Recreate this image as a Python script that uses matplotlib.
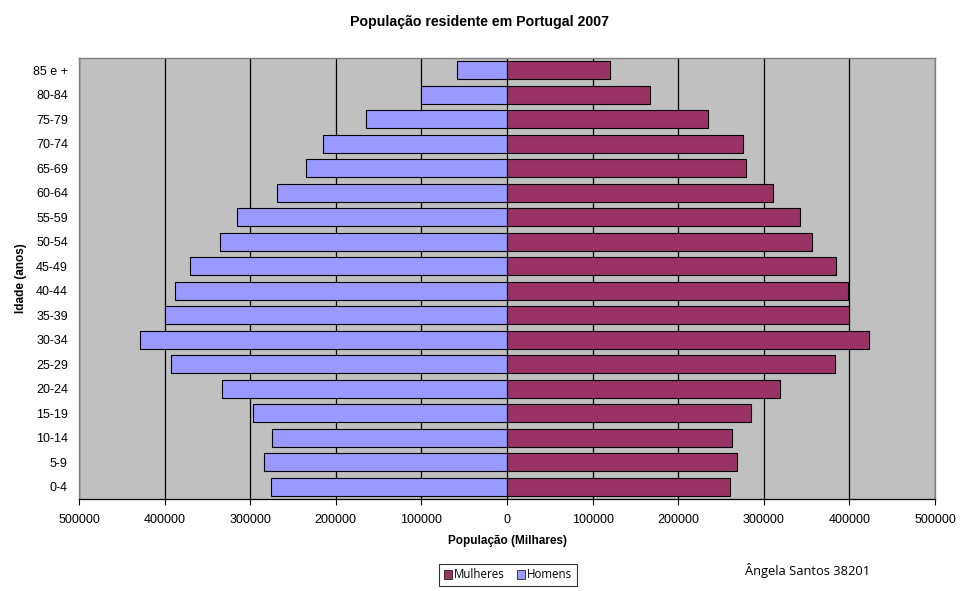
import numpy as np
import matplotlib
matplotlib.use("Agg")
import matplotlib.pyplot as plt
from matplotlib.ticker import FuncFormatter
from matplotlib.patches import Patch

faixas = ["0-4", "5-9", "10-14", "15-19", "20-24", "25-29", "30-34", "35-39",
          "40-44", "45-49", "50-54", "55-59", "60-64", "65-69", "70-74",
          "75-79", "80-84", "85 e +"]
homens = [275700, 283900, 274500, 296700, 333000, 392500, 428700, 399500,
          387900, 370300, 335300, 315400, 268700, 234800, 215000,
          164700, 100500, 58400]
mulheres = [261000, 269200, 263300, 285500, 319400, 383600, 423400, 400000,
            398800, 384800, 356800, 342800, 311200, 279700, 276200,
            235300, 167500, 120300]
ticks = [-500000, -400000, -300000, -200000, -100000, 0,
         100000, 200000, 300000, 400000, 500000]

plt.rcParams['font.family'] = ['Liberation Sans', 'DejaVu Sans']

fig = plt.figure(figsize=(9.69, 5.91), dpi=100)
ax = fig.add_axes([79/969, 92/591, 856/969, 441/591])
ax.set_facecolor("#C0C0C0")

y = np.arange(len(faixas))
ax.barh(y, -np.array(homens), height=0.74, color="#9999FF",
        edgecolor="black", linewidth=0.8, label="Homens", zorder=3)
ax.barh(y, mulheres, height=0.74, color="#993366",
        edgecolor="black", linewidth=0.8, label="Mulheres", zorder=3)

ax.set_xlim(-500000, 500000)
ax.set_ylim(-0.5, len(faixas) - 0.5)
ax.set_xticks(ticks)
ax.xaxis.set_major_formatter(FuncFormatter(lambda v, p: "%d" % abs(v)))
ax.set_yticks(y)
ax.set_yticklabels(faixas)
ax.tick_params(axis="y", length=0, pad=8, labelsize=9)
ax.tick_params(axis="x", direction="out", length=4, width=0.8,
               color="black", labelsize=9, pad=7)
ax.grid(axis="x", color="black", linewidth=0.9, zorder=1)
ax.set_axisbelow(True)

for s in ["top", "left", "right"]:
    ax.spines[s].set_color("#808080")
    ax.spines[s].set_linewidth(1)
ax.spines["bottom"].set_color("black")
ax.spines["bottom"].set_linewidth(0.9)

ax.set_xlabel("População (Milhares)", fontsize=8.5, fontweight="bold", labelpad=6)
ax.set_ylabel("Idade (anos)", fontsize=8.5, fontweight="bold", labelpad=4)
fig.text(480/969, 1 - 22/591, "População residente em Portugal 2007",
         ha="center", va="center", fontsize=10.2, fontweight="bold")

handles = [Patch(facecolor="#993366", edgecolor="black", linewidth=0.5, label="Mulheres"),
           Patch(facecolor="#9999FF", edgecolor="black", linewidth=0.5, label="Homens")]
leg = fig.legend(handles=handles, loc="center", bbox_to_anchor=(508/969, 1 - 575/591),
                 ncol=2, frameon=True, fancybox=False,
                 prop={"family": "Open Sans", "size": 8.3},
                 handlelength=0.7, handleheight=0.7, handletextpad=0.2,
                 columnspacing=1.0, borderpad=0.4, borderaxespad=0)
leg.get_frame().set_edgecolor("black")
leg.get_frame().set_linewidth(0.8)

fig.text(745/969, 1 - 570/591, "Ângela Santos 38201", ha="left", va="center",
         fontsize=9.3, family="Open Sans")

fig.savefig("out.png", dpi=100)
